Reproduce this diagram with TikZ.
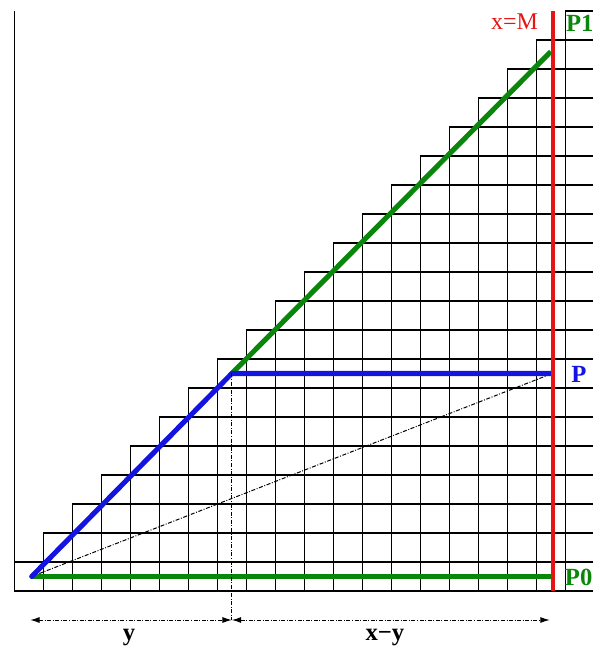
\documentclass[tikz,border=0pt]{standalone}
\usepackage{fontspec}
\setmainfont{Liberation Serif}
\usetikzlibrary{arrows.meta}
\definecolor{myred}{RGB}{230,20,20}
\definecolor{mygreen}{RGB}{10,135,10}
\definecolor{myblue}{RGB}{20,20,225}
\begin{document}
\begin{tikzpicture}[x=21.75pt,y=21.75pt,
  gridline/.style={line width=1.05pt,black},
  fatline/.style={line width=3.8pt},
  dimline/.style={line width=0.75pt,dash pattern=on 3pt off 1.2pt on 0.7pt off 1.2pt},
  lbl/.style={font=\fontsize{18.5}{21}\selectfont\bfseries,inner sep=0pt},
  arr/.style={dimline,{Latex[length=7pt,width=4.5pt]}-{Latex[length=7pt,width=4.5pt]}}
]
\useasboundingbox (-0.493,-1.931) rectangle (19.955,20.379);
% staircase grid
\foreach \k in {1,...,20} \draw[gridline] (\k-1,\k) -- (20,\k);
\foreach \k in {1,...,19} \draw[gridline] (\k,0) -- (\k,\k+1);
\draw[gridline] (20,0) -- (20,20);
\draw[gridline] (0,20) -- (0,0) -- (20,0);
% key points
\coordinate (O) at (0.6,0.5);
\coordinate (C) at (7.5,7.5);
\coordinate (P) at (18.55,7.5);
\coordinate (Q) at (18.5,18.6);
\coordinate (R) at (18.55,0.5);
\coordinate (Mtop) at (18.57,20);
\coordinate (Mbot) at (18.57,0);
\coordinate (A1) at (0.55,-1);
\coordinate (A2) at (7.5,-1);
\coordinate (A3) at (18.46,-1);
% lines
\draw[dimline] (O) -- (P);
\draw[fatline,mygreen] (O) -- (R);
\draw[fatline,mygreen] (C) -- (Q);
\draw[fatline,myblue,line join=round,line cap=round] (O) -- (C) -- (P);
\draw[line width=3.5pt,myred] (Mbot) -- (Mtop);
\draw[dimline] (C) -- (A2);
\draw[arr] (A1) -- (A2);
\draw[arr] (A2) -- (A3);
% labels
\node[inner sep=0pt,font=\fontsize{18}{21}\selectfont,text=myred] (xm) at (17.25,19.62) {x=M};
\node[lbl,text=mygreen,anchor=west] (p1) at (19.02,19.56) {P1};
\node[lbl,text=myblue] (p) at (19.47,7.46) {P};
\node[lbl,text=mygreen,anchor=west] (p0) at (18.98,0.48) {P0};
\node[lbl,anchor=base] (ly) at (3.96,-1.7) {y};
\node[lbl,anchor=base] (lxy) at (12.78,-1.7) {x−y};
\end{tikzpicture}
\end{document}
